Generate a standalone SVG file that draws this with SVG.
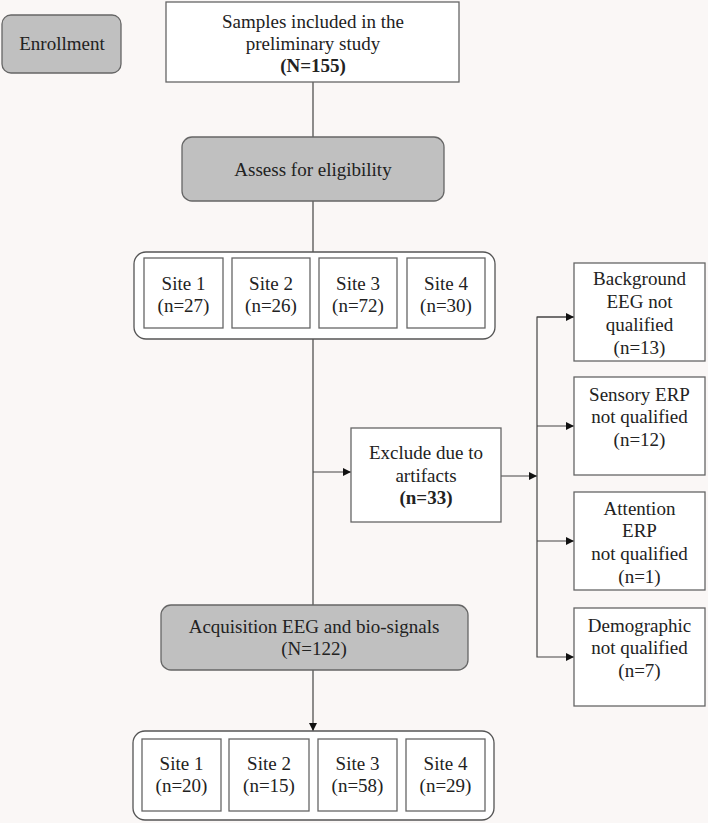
<svg xmlns="http://www.w3.org/2000/svg" width="708" height="823" viewBox="0 0 708 823">
<defs>
<marker id="ah" viewBox="0 0 10 10" refX="10" refY="5" markerWidth="9" markerHeight="8" markerUnits="userSpaceOnUse" orient="auto">
<path d="M0,0 L10,5 L0,10 Z" fill="#111"/>
</marker>
<style>
text{font-family:"Liberation Serif","Times New Roman",Tinos,serif;font-size:19px;fill:#222;text-anchor:middle}
.b{font-weight:bold}
.box{fill:#fff;stroke:#666;stroke-width:1.3}
.gray{fill:#c0c0c0;stroke:#666;stroke-width:1.3}
.grp{fill:#fff;stroke:#555;stroke-width:1.3}
.ln{fill:none;stroke:#444;stroke-width:1.2}
</style>
</defs>
<rect x="0" y="0" width="708" height="823" fill="#faf7f6"/>

<g id="connectors">
<line class="ln" x1="313" y1="82" x2="313" y2="137"/>
<line class="ln" x1="313" y1="201" x2="313" y2="252"/>
<line class="ln" x1="313" y1="339" x2="313" y2="605"/>
<line class="ln" x1="313" y1="472" x2="351" y2="472" marker-end="url(#ah)"/>
<line class="ln" x1="501" y1="476" x2="537" y2="476" marker-end="url(#ah)"/>
<polyline class="ln" points="574,317 537,317 537,657 574,657" marker-end="url(#ah)"/>
<line class="ln" x1="537" y1="317" x2="574" y2="317" marker-end="url(#ah)"/>
<line class="ln" x1="537" y1="426" x2="574" y2="426" marker-end="url(#ah)"/>
<line class="ln" x1="537" y1="541" x2="574" y2="541" marker-end="url(#ah)"/>
<line class="ln" x1="313" y1="670" x2="313" y2="731" marker-end="url(#ah)"/>
</g>

<g id="enrollment">
<rect class="gray" x="2" y="15" width="119" height="58" rx="9"/>
<text x="62" y="50">Enrollment</text>
</g>

<g id="samples">
<rect class="box" x="166" y="2" width="293" height="80"/>
<text x="313" y="28">Samples included in the</text>
<text x="313" y="50">preliminary study</text>
<text class="b" x="313" y="72">(N=155)</text>
</g>

<g id="assess">
<rect class="gray" x="182" y="137" width="262" height="64" rx="10"/>
<text x="313" y="176">Assess for eligibility</text>
</g>

<g id="sites-initial">
<rect class="grp" x="134" y="252" width="361" height="87" rx="12"/>
<rect class="box" x="144" y="258" width="79" height="70"/>
<text x="183.5" y="290">Site 1</text>
<text x="183.5" y="312">(n=27)</text>
<rect class="box" x="232" y="258" width="78" height="70"/>
<text x="271" y="290">Site 2</text>
<text x="271" y="312">(n=26)</text>
<rect class="box" x="319" y="258" width="78" height="70"/>
<text x="358" y="290">Site 3</text>
<text x="358" y="312">(n=72)</text>
<rect class="box" x="407" y="258" width="78" height="70"/>
<text x="446" y="290">Site 4</text>
<text x="446" y="312">(n=30)</text>
</g>

<g id="exclude">
<rect class="box" x="351" y="428" width="150" height="94"/>
<text x="426" y="459">Exclude due to</text>
<text x="426" y="482">artifacts</text>
<text class="b" x="426" y="504">(n=33)</text>
</g>

<g id="background-eeg">
<rect class="box" x="574" y="263" width="131" height="98"/>
<text x="639.5" y="285">Background</text>
<text x="639.5" y="308">EEG not</text>
<text x="639.5" y="331">qualified</text>
<text x="639.5" y="354">(n=13)</text>
</g>

<g id="sensory-erp">
<rect class="box" x="574" y="377" width="131" height="98"/>
<text x="639.5" y="401">Sensory ERP</text>
<text x="639.5" y="423">not qualified</text>
<text x="639.5" y="446">(n=12)</text>
</g>

<g id="attention-erp">
<rect class="box" x="574" y="492" width="131" height="98"/>
<text x="639.5" y="515">Attention</text>
<text x="639.5" y="537">ERP</text>
<text x="639.5" y="560">not qualified</text>
<text x="639.5" y="583">(n=1)</text>
</g>

<g id="demographic">
<rect class="box" x="574" y="608" width="131" height="98"/>
<text x="639.5" y="632">Demographic</text>
<text x="639.5" y="654">not qualified</text>
<text x="639.5" y="677">(n=7)</text>
</g>

<g id="acquisition">
<rect class="gray" x="161" y="605" width="307" height="65" rx="10"/>
<text x="314" y="633">Acquisition EEG and bio-signals</text>
<text x="314" y="655">(N=122)</text>
</g>

<g id="sites-final">
<rect class="grp" x="133" y="731" width="361" height="89" rx="12"/>
<rect class="box" x="142" y="739" width="79" height="72"/>
<text x="181.5" y="770">Site 1</text>
<text x="181.5" y="792">(n=20)</text>
<rect class="box" x="229" y="739" width="80" height="72"/>
<text x="269" y="770">Site 2</text>
<text x="269" y="792">(n=15)</text>
<rect class="box" x="318" y="739" width="79" height="72"/>
<text x="357.5" y="770">Site 3</text>
<text x="357.5" y="792">(n=58)</text>
<rect class="box" x="406" y="739" width="79" height="72"/>
<text x="445.5" y="770">Site 4</text>
<text x="445.5" y="792">(n=29)</text>
</g>
</svg>
